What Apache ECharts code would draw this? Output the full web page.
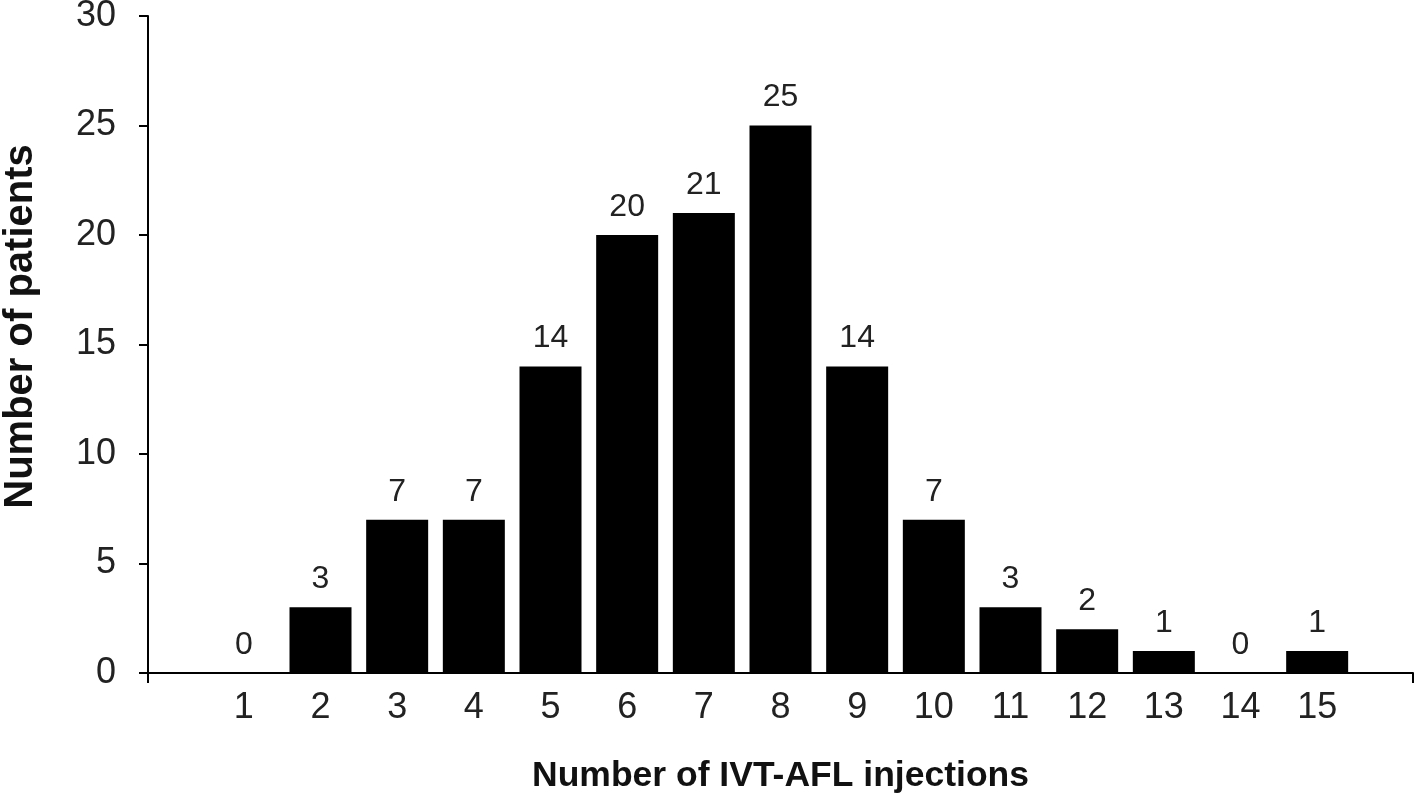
<!DOCTYPE html>
<html>
<head>
<meta charset="utf-8">
<script src="https://cdn.jsdelivr.net/npm/echarts@6/dist/echarts.min.js"></script>
<style>
  html, body { margin: 0; padding: 0; background: #fff; }
  #chart { width: 1418px; height: 793px; }
</style>
</head>
<body>
<div id="chart"></div>
<script>
// number of injections (x) and number of patients (y)
var injections = [1, 2, 3, 4, 5, 6, 7, 8, 9, 10, 11, 12, 13, 14, 15];
var patients = [0, 3, 7, 7, 14, 20, 21, 25, 14, 7, 3, 2, 1, 0, 1];
var yTicks = [0, 5, 10, 15, 20, 25, 30];

var font = 'Liberation Sans, Arial, sans-serif';
var xMin = -0.25, xMax = 16.25;

var myChart = echarts.init(document.getElementById('chart'));
var option = {
  animation: false,
  grid: { left: 148, right: 5, top: 16, bottom: 120, containLabel: false, outerBoundsMode: 'none' },
  xAxis: {
    type: 'value',
    min: xMin,
    max: xMax,
    name: 'Number of IVT-AFL injections',
    nameLocation: 'middle',
    nameGap: 85,
    nameTextStyle: { fontFamily: font, fontSize: 35.5, fontWeight: 'bold', color: '#111' },
    axisLine: { show: true, onZero: false, lineStyle: { color: '#000', width: 2 } },
    axisTick: { show: true, length: 10, customValues: [xMin, xMax], lineStyle: { color: '#000', width: 2 } },
    axisLabel: { customValues: injections, margin: 17, fontFamily: font, fontSize: 36, color: '#222' },
    splitLine: { show: false }
  },
  yAxis: {
    type: 'value',
    min: 0,
    max: 30,
    interval: 5,
    name: 'Number of patients',
    nameLocation: 'middle',
    nameGap: 107,
    nameTextStyle: { fontFamily: font, fontSize: 40, fontWeight: 'bold', color: '#111', padding: [0, 0, 0, 36] },
    axisLine: { show: true, onZero: false, lineStyle: { color: '#000', width: 2 } },
    axisTick: { show: true, length: 9, lineStyle: { color: '#000', width: 2 } },
    axisLabel: { margin: 32, fontFamily: font, fontSize: 36, color: '#222',
      customValues: yTicks },
    splitLine: { show: false }
  },
  series: [{
    type: 'bar',
    barWidth: 62,
    data: injections.map(function (x, i) { return [x, patients[i]]; }),
    itemStyle: { color: '#000' },
    label: {
      show: true,
      position: 'top',
      distance: 12,
      fontFamily: font,
      fontSize: 32,
      color: '#222',
      formatter: function (p) { return p.value[1]; }
    }
  }]
};
myChart.setOption(option, true);
</script>
</body>
</html>
